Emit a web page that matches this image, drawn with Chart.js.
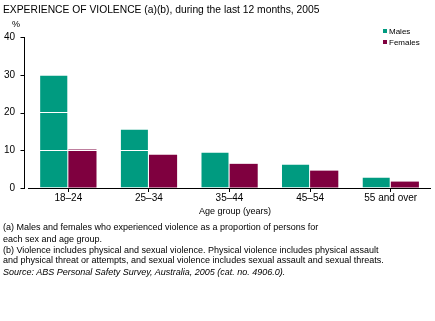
<!DOCTYPE html>
<html>
<head>
<meta charset="utf-8">
<script src="https://cdn.jsdelivr.net/npm/chart.js@4"></script>
<style>
  body { margin: 0; background: #fff; }
  #wrap { position: relative; width: 435px; height: 321px; font-family: "Liberation Sans", Arial, sans-serif; color: #000; }
  #wrap canvas { position: absolute; left: 0; top: 0; }
  .txt { position: absolute; white-space: nowrap; line-height: 1; }
  .title { left: 3px; top: 5px; font-size: 10.3px; }
  .unit { left: 12px; top: 20px; font-size: 9px; }
  .axis-title { left: 0; width: 470px; text-align: center; top: 207px; font-size: 9px; }
  .note { left: 3px; font-size: 9px; }
  .legend { left: 383px; font-size: 8px; }
  .legend i { display: inline-block; width: 4px; height: 4px; margin-right: 2px; vertical-align: 1px; }
</style>
</head>
<body>
<div id="wrap">
  <canvas id="chart" width="435" height="321"></canvas>
  <div class="txt title">EXPERIENCE OF VIOLENCE (a)(b), during the last 12 months, 2005</div>
  <div class="txt unit">%</div>
  <div class="txt legend" style="top:28px"><i style="background:#009b80"></i>Males</div>
  <div class="txt legend" style="top:39px"><i style="background:#7f003f"></i>Females</div>
  <div class="txt axis-title">Age group (years)</div>
  <div class="txt note" style="top:223px">(a) Males and females who experienced violence as a proportion of persons for</div>
  <div class="txt note" style="top:235px">each sex and age group.</div>
  <div class="txt note" style="top:246px">(b) Violence includes physical and sexual violence. Physical violence includes physical assault</div>
  <div class="txt note" style="top:256px">and physical threat or attempts, and sexual violence includes sexual assault and sexual threats.</div>
  <div class="txt note" style="top:268px; font-style:italic">Source: ABS Personal Safety Survey, Australia, 2005 (cat. no. 4906.0).</div>
</div>
<script>
// Age groups and rates (%)
const ageGroups = ['18–24', '25–34', '35–44', '45–54', '55 and over'];
const males = [29.8, 15.5, 9.4, 6.2, 2.8];
const females = [10.2, 8.8, 6.4, 4.6, 1.7];
const yTicks = [0, 10, 20, 30, 40];

const teal = '#009b80';
const maroon = '#7f003f';

// axis lines drawn by hand: y axis sits 4px left of where the categories start
const axisLines = {
    id: 'axisLines',
    afterDraw(chart) {
        const { ctx, chartArea } = chart;
        const yScale = chart.scales.y;
        const ax = chartArea.left - 4 + 0.5;
        ctx.save();
        ctx.strokeStyle = '#000';
        ctx.lineWidth = 1;
        ctx.beginPath();
        // x axis
        ctx.moveTo(chartArea.left, chartArea.bottom + 0.5);
        ctx.lineTo(chartArea.right, chartArea.bottom + 0.5);
        // y axis
        ctx.moveTo(ax, chartArea.top);
        ctx.lineTo(ax, chartArea.bottom + 1);
        // y tick marks
        yTicks.forEach(v => {
            const y = Math.round(yScale.getPixelForValue(v)) + 0.5;
            ctx.moveTo(ax - 4, y);
            ctx.lineTo(ax, y);
        });
        ctx.stroke();
        ctx.restore();
    }
};

new Chart(document.getElementById('chart'), {
    type: 'bar',
    data: {
        labels: ageGroups,
        datasets: [
            {
                label: 'Males',
                data: males,
                backgroundColor: teal,
                borderColor: '#fff',
                borderWidth: { right: 1, left: 0, top: 0, bottom: 0 },
                borderSkipped: false
            },
            {
                label: 'Females',
                data: females,
                backgroundColor: maroon,
                borderWidth: 0
            }
        ]
    },
    options: {
        responsive: false,
        animation: false,
        events: [],
        layout: { padding: { top: 37, right: 4, left: 0, bottom: 0 } },
        categoryPercentage: 0.7,
        barPercentage: 1.0,
        plugins: {
            legend: { display: false },
            tooltip: { enabled: false }
        },
        scales: {
            x: {
                grid: { display: true, drawOnChartArea: false, offset: false, tickLength: 4, color: '#000' },
                border: { display: false },
                ticks: { color: '#000', font: { family: 'Liberation Sans', size: 10 }, padding: 0, maxRotation: 0 },
                afterFit: s => { s.height = 133; }
            },
            y: {
                min: 0,
                max: 40,
                afterBuildTicks: s => { s.ticks = yTicks.map(v => ({ value: v })); },
                grid: {
                    z: 1,
                    color: c => (c.tick && c.tick.value === 0) ? 'rgba(0,0,0,0)' : '#fff',
                    drawTicks: false,
                    lineWidth: 1
                },
                border: { display: false },
                ticks: { color: '#000', font: { family: 'Liberation Sans', size: 10 }, padding: 13 },
                afterFit: s => { s.width = 28; }
            }
        }
    },
    plugins: [axisLines]
});
</script>
</body>
</html>
